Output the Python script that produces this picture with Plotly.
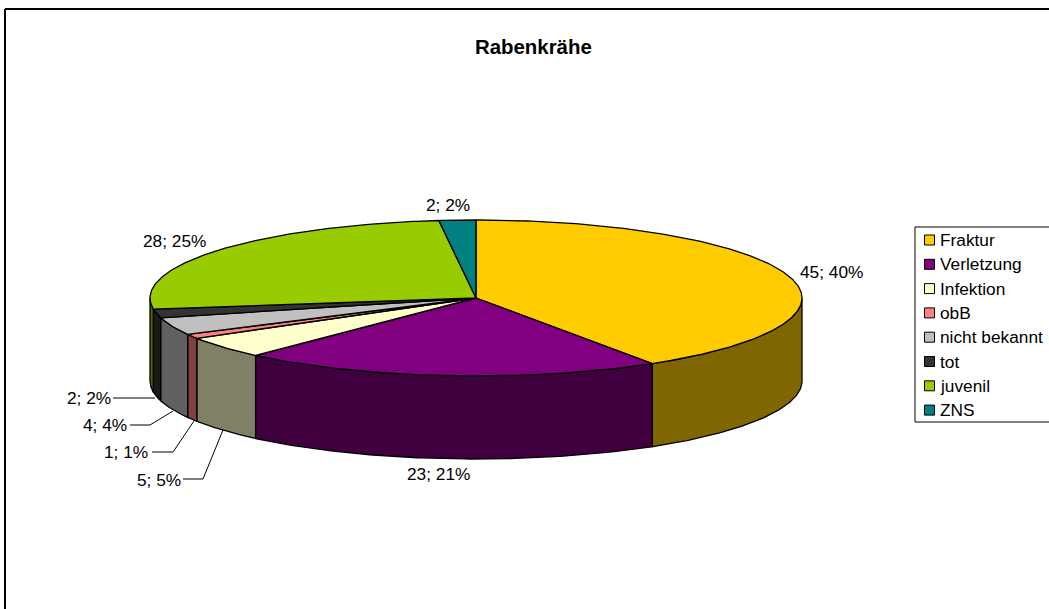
import math
import plotly.graph_objects as go

categories = ["Fraktur", "Verletzung", "Infektion", "obB", "nicht bekannt", "tot", "juvenil", "ZNS"]
values = [45, 23, 5, 1, 4, 2, 28, 2]
percent_labels = ["40%", "21%", "5%", "1%", "4%", "2%", "25%", "2%"]
top_colors = ["#FFCC00", "#800080", "#FFFFCC", "#FF8080", "#C0C0C0", "#333333", "#99CC00", "#008080"]
side_colors = ["#806600", "#400040", "#808066", "#804040", "#606060", "#1A1A1A", "#4D6600", "#004040"]
label_pos = [(831, 272), (438, 474), (159, 480), (126, 452), (105, 425), (89, 398), (174, 241), (448, 205)]

CX, CY, RX, RY, DEPTH = 476, 298, 326, 78, 83
total = sum(values)
W, H = 1049, 609


def pt(a, dy=0):
    return CX + RX * math.sin(a), CY - RY * math.cos(a) + dy


def arc(a0, a1, dy=0):
    n = max(2, int(abs(a1 - a0) / 0.01))
    return [pt(a0 + (a1 - a0) * i / n, dy) for i in range(n + 1)]


fig = go.Figure()


def poly(points, fill, lw=1.3):
    xs = [p[0] for p in points] + [points[0][0]]
    ys = [p[1] for p in points] + [points[0][1]]
    fig.add_trace(go.Scatter(x=xs, y=ys, mode="lines", fill="toself", fillcolor=fill,
                             line=dict(color="black", width=lw), hoverinfo="skip", showlegend=False))


# slice angles, clockwise from 12 o'clock
angles = [0.0]
for v in values:
    angles.append(angles[-1] + v / total * 2 * math.pi)

# outer walls (only the front half of the ellipse is visible)
for i in range(len(values)):
    a0, a1 = max(angles[i], math.pi / 2), min(angles[i + 1], 3 * math.pi / 2)
    if a1 > a0:
        top = arc(a0, a1)
        bottom = arc(a1, a0, DEPTH)
        poly(top + bottom, side_colors[i])

# top faces
for i in range(len(values)):
    poly([(CX, CY)] + arc(angles[i], angles[i + 1]), top_colors[i])

# leader lines for the small slices
leaders = [
    [(183, 479), (203, 479), (223, 430)],
    [(152, 452), (173, 452), (194, 421)],
    [(130, 425), (150, 425), (173, 411)],
    [(113, 398), (155, 398)],
]
for line in leaders:
    fig.add_trace(go.Scatter(x=[p[0] for p in line], y=[p[1] for p in line], mode="lines",
                             line=dict(color="black", width=1), hoverinfo="skip", showlegend=False))

annotations = []
for i, (v, p) in enumerate(zip(values, percent_labels)):
    annotations.append(dict(x=label_pos[i][0], y=label_pos[i][1], text=f"{v}; {p}", showarrow=False,
                            font=dict(family="Liberation Sans", size=17.3, color="black"),
                            xanchor="center", yanchor="middle"))
annotations.append(dict(x=533.5, y=47, text="<b>Rabenkrähe</b>", showarrow=False,
                        font=dict(family="Liberation Sans", size=20.4, color="black"),
                        xanchor="center", yanchor="middle"))

shapes = [
    dict(type="rect", x0=915, y0=227, x1=1055, y1=422, line=dict(color="black", width=1), fillcolor="white"),
    dict(type="line", x0=5, y0=9, x1=1049, y1=9, line=dict(color="black", width=2)),
    dict(type="line", x0=5, y0=9, x1=5, y1=609, line=dict(color="black", width=2)),
]
for i, c in enumerate(categories):
    y = 240 + i * 24.3
    shapes.append(dict(type="rect", x0=924.5, y0=y - 5, x1=934.5, y1=y + 5,
                       line=dict(color="black", width=1), fillcolor=top_colors[i]))
    annotations.append(dict(x=937.5, y=y, text=c, showarrow=False, xanchor="left", yanchor="middle",
                            font=dict(family="Liberation Sans", size=17.3, color="black")))

fig.update_layout(
    width=W, height=H, autosize=False,
    margin=dict(l=0, r=0, t=0, b=0),
    paper_bgcolor="white", plot_bgcolor="white",
    xaxis=dict(range=[0, W], visible=False, fixedrange=True),
    yaxis=dict(range=[H, 0], visible=False, fixedrange=True),
    showlegend=False,
    annotations=annotations, shapes=shapes,
)
fig.write_html("out.html", config={"displayModeBar": False},
               post_script="document.body.style.margin='0';document.body.style.overflow='hidden';")
